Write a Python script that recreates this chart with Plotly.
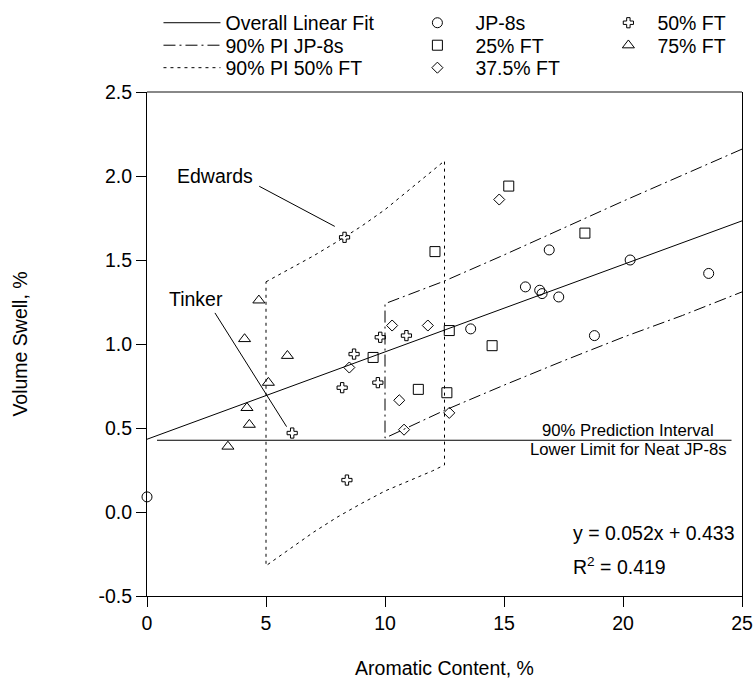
import plotly.graph_objects as go

FONT = "Liberation Sans, Arial, sans-serif"
FS = 19.5
FS_SMALL = 16.7

# ---------------- data ----------------
jp8_x = [0.0, 13.6, 15.9, 16.5, 16.6, 16.9, 17.3, 18.8, 20.3, 23.6]
jp8_y = [0.09, 1.09, 1.34, 1.32, 1.30, 1.56, 1.28, 1.05, 1.50, 1.42]
ft25_x = [9.5, 11.4, 12.1, 12.6, 12.7, 14.5, 15.2, 18.4]
ft25_y = [0.92, 0.73, 1.55, 0.71, 1.08, 0.99, 1.94, 1.66]
ft375_x = [8.5, 10.3, 10.6, 10.8, 11.8, 12.7, 14.8]
ft375_y = [0.86, 1.11, 0.665, 0.49, 1.11, 0.59, 1.86]
ft50_x = [6.1, 8.2, 8.3, 8.4, 8.7, 9.7, 9.8, 10.9]
ft50_y = [0.47, 0.74, 1.635, 0.19, 0.94, 0.77, 1.04, 1.05]
ft75_x = [3.4, 4.1, 4.2, 4.3, 4.7, 5.1, 5.9]
ft75_y = [0.39, 1.03, 0.62, 0.52, 1.26, 0.77, 0.93]

fit_x = [0, 25]
fit_y = [0.433, 1.733]

limit_x = [0.42, 24.56]
limit_y = [0.427, 0.427]

pi_jp8_x = [10, 12.5, 15, 17.5, 20, 22.5, 25]
pi_jp8_upper = [1.24, 1.375, 1.53, 1.69, 1.85, 2.005, 2.16]
pi_jp8_lower = [0.44, 0.605, 0.755, 0.90, 1.04, 1.17, 1.31]

pi50_x = [5, 6, 7, 8, 9, 10, 11, 12, 12.5]
pi50_upper = [1.37, 1.445, 1.525, 1.61, 1.70, 1.80, 1.915, 2.03, 2.09]
pi50_lower = [-0.32, -0.22, -0.12, -0.03, 0.05, 0.125, 0.185, 0.245, 0.28]

x_ticks = [0, 5, 10, 15, 20, 25]
y_ticks = [-0.5, 0.0, 0.5, 1.0, 1.5, 2.0, 2.5]
y_ticktext = ["-0.5", "0.0", "0.5", "1.0", "1.5", "2.0", "2.5"]

# ---------------- figure ----------------
fig = go.Figure()

jp8_path_x = pi_jp8_x[::-1] + pi_jp8_x
jp8_path_y = pi_jp8_upper[::-1] + pi_jp8_lower
p50_path_x = pi50_x + pi50_x[::-1] + [pi50_x[0]]
p50_path_y = pi50_upper + pi50_lower[::-1] + [pi50_upper[0]]

fig.add_trace(go.Scatter(x=fit_x, y=fit_y, mode="lines", name="Overall Linear Fit",
                         line=dict(color="black", width=1), legend="legend"))
fig.add_trace(go.Scatter(x=jp8_path_x, y=jp8_path_y, mode="lines", name="90% PI JP-8s",
                         line=dict(color="black", width=1, dash="12px,4px,2px,4px"), legend="legend2"))
fig.add_trace(go.Scatter(x=p50_path_x, y=p50_path_y, mode="lines", name="90% PI 50% FT",
                         line=dict(color="black", width=1, dash="3px,4px"), legend="legend3"))
fig.add_trace(go.Scatter(x=limit_x, y=limit_y, mode="lines", showlegend=False,
                         line=dict(color="black", width=1)))

mk = dict(color="black", line=dict(color="black", width=1))
fig.add_trace(go.Scatter(x=jp8_x, y=jp8_y, mode="markers", name="JP-8s", cliponaxis=False,
                         marker=dict(symbol="circle-open", size=10, **mk), legend="legend4"))
fig.add_trace(go.Scatter(x=ft25_x, y=ft25_y, mode="markers", name="25% FT", cliponaxis=False,
                         marker=dict(symbol="square-open", size=10, **mk), legend="legend5"))
fig.add_trace(go.Scatter(x=ft375_x, y=ft375_y, mode="markers", name="37.5% FT", cliponaxis=False,
                         marker=dict(symbol="diamond-open", size=8.5, **mk), legend="legend6"))
fig.add_trace(go.Scatter(x=ft50_x, y=ft50_y, mode="markers", name="50% FT", cliponaxis=False,
                         marker=dict(symbol="cross-open", size=8.5, **mk), legend="legend7"))
fig.add_trace(go.Scatter(x=ft75_x, y=ft75_y, mode="markers", name="75% FT", cliponaxis=False,
                         marker=dict(symbol="triangle-up-open", size=10.5, **mk), legend="legend8"))

def leg(x, y, w):
    return dict(x=x, y=y, xanchor="left", yanchor="middle", xref="paper", yref="paper",
                font=dict(family=FONT, size=FS, color="black"), bgcolor="rgba(0,0,0,0)",
                borderwidth=0, itemwidth=w, tracegroupgap=0)

c1, c2, c3 = 0.0193, 0.4242, 0.7603
r1, r2, r3 = 1.1368, 1.0922, 1.0476

fig.update_layout(
    width=753, height=679,
    margin=dict(l=146.5, r=11.3, t=91.5, b=83, autoexpand=False),
    paper_bgcolor="white", plot_bgcolor="white",
    font=dict(family=FONT, size=FS, color="black"),
    legend=leg(c1, r1, 57), legend2=leg(c1, r2, 57), legend3=leg(c1, r3, 57),
    legend4=leg(c2, r1, 66), legend5=leg(c2, r2, 66), legend6=leg(c2, r3, 66),
    legend7=leg(c3, r1, 48), legend8=leg(c3, r2, 48),
    xaxis=dict(range=[0, 25], tickvals=x_ticks, ticks="outside", ticklen=10, tickwidth=1,
               tickcolor="black", showline=True, linecolor="black", linewidth=1,
               showgrid=False, zeroline=False,
               title=dict(text="Aromatic Content, %", standoff=28, font=dict(size=FS)),
               tickfont=dict(size=FS)),
    yaxis=dict(range=[-0.5, 2.5], tickvals=y_ticks, ticktext=y_ticktext, ticks="outside",
               ticklen=10, tickwidth=1, tickcolor="black", showline=True, linecolor="black",
               linewidth=1, mirror=True, showgrid=False, zeroline=False,
               title=dict(text="Volume Swell, %", standoff=65, font=dict(size=FS)),
               tickfont=dict(size=FS)),
    showlegend=True,
)

fig.add_shape(type="line", xref="paper", yref="paper", x0=0, x1=1, y0=1, y1=1,
              line=dict(color="#888888", width=2))
fig.add_shape(type="line", xref="x", yref="y", x0=4.715, y0=1.939, x1=7.89, y1=1.70,
              line=dict(color="black", width=1))
fig.add_shape(type="line", xref="x", yref="y", x0=2.855, y0=1.185, x1=5.865, y1=0.508,
              line=dict(color="black", width=1))

ann = dict(showarrow=False)
big = dict(family=FONT, size=FS, color="black")
small = dict(family=FONT, size=FS_SMALL, color="black")
fig.add_annotation(x=2.86, y=2.0, text="Edwards", xanchor="center", yanchor="middle", font=big, **ann)
fig.add_annotation(x=2.06, y=1.268, text="Tinker", xanchor="center", yanchor="middle", font=big, **ann)
fig.add_annotation(x=20.22, y=0.487, text="90% Prediction Interval", xanchor="center",
                   yanchor="middle", font=small, **ann)
fig.add_annotation(x=20.22, y=0.372, text="Lower Limit for Neat JP-8s", xanchor="center",
                   yanchor="middle", font=small, **ann)
fig.add_annotation(x=17.8, y=-0.125, text="y = 0.052x + 0.433", xanchor="left", yanchor="middle",
                   font=big, **ann)
fig.add_annotation(x=17.8, y=-0.323, text="R<sup>2</sup> = 0.419", xanchor="left", yanchor="middle",
                   font=big, **ann)

fig.write_html("out.html")
